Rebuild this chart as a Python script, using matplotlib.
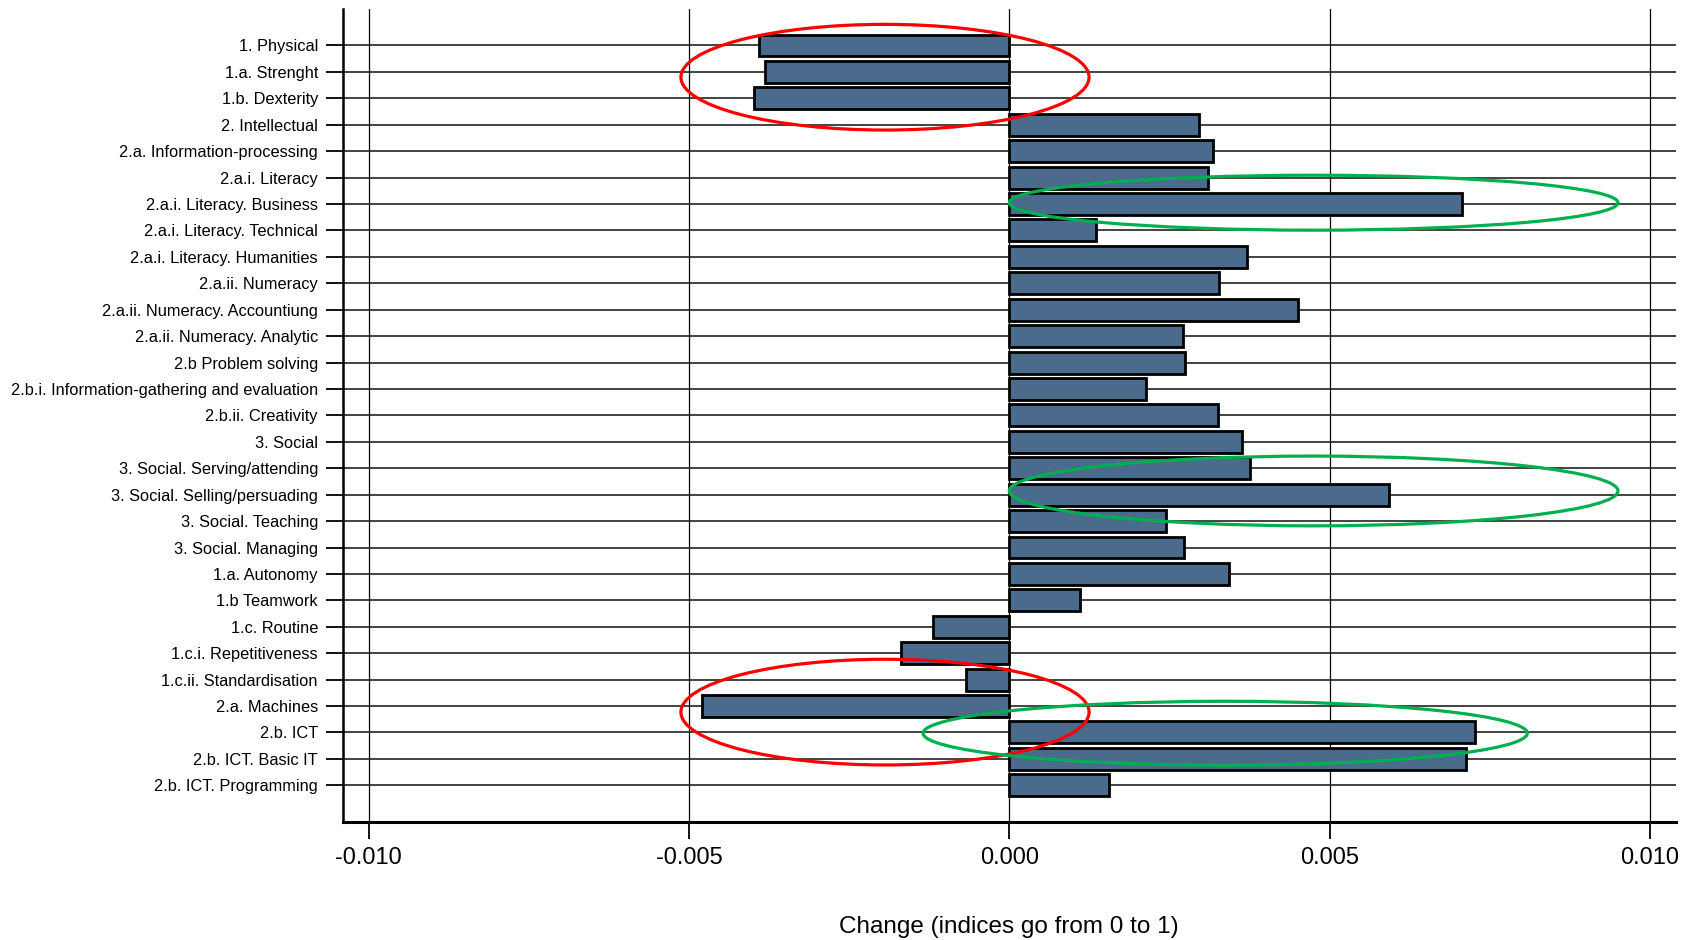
import numpy as np
import matplotlib
matplotlib.use("Agg")
from matplotlib import pyplot as plt
from matplotlib.patches import Ellipse

plt.rcParams['font.family'] = ['Liberation Sans', 'DejaVu Sans']

labels = ["1. Physical", "1.a. Strenght", "1.b. Dexterity", "2. Intellectual",
          "2.a. Information-processing", "2.a.i. Literacy", "2.a.i. Literacy. Business",
          "2.a.i. Literacy. Technical", "2.a.i. Literacy. Humanities", "2.a.ii. Numeracy",
          "2.a.ii. Numeracy. Accountiung", "2.a.ii. Numeracy. Analytic", "2.b Problem solving",
          "2.b.i. Information-gathering and evaluation", "2.b.ii. Creativity", "3. Social",
          "3. Social. Serving/attending", "3. Social. Selling/persuading", "3. Social. Teaching",
          "3. Social. Managing", "1.a. Autonomy", "1.b Teamwork", "1.c. Routine",
          "1.c.i. Repetitiveness", "1.c.ii. Standardisation", "2.a. Machines", "2.b. ICT",
          "2.b. ICT. Basic IT", "2.b. ICT. Programming"]
values = [-0.00391, -0.00382, -0.00399, 0.00296, 0.00318, 0.00310, 0.00707,
          0.00136, 0.00371, 0.00328, 0.00451, 0.00271, 0.00274, 0.00213,
          0.00326, 0.00363, 0.00375, 0.00593, 0.00245, 0.00273, 0.00343,
          0.00111, -0.00119, -0.00169, -0.00068, -0.00479, 0.00727, 0.00713,
          0.00156]
xticks = [-0.010, -0.005, 0.000, 0.005, 0.010]
xlabel = "Change (indices go from 0 to 1)"

bar_color = "#4a6b8c"

fig = plt.figure(figsize=(16.96, 9.40), dpi=100)
ax = fig.add_axes([0.2022, 0.1255, 0.988 - 0.2022, 0.9904 - 0.1255])

ypos = np.arange(len(labels))
ax.barh(ypos, values, height=0.83, color=bar_color, edgecolor="black",
        linewidth=2.0, zorder=3)

ax.set_xlim(-0.0104, 0.0104)
ax.set_ylim(len(labels) - 1 + 1.39, -1.38)
ax.set_yticks(ypos)
ax.set_yticklabels(labels, fontsize=11.8)
ax.set_xticks(xticks)
ax.set_xticklabels(["{:.3f}".format(v) for v in xticks], fontsize=17)
ax.set_xlabel(xlabel, fontsize=17.5, va="center")
ax.xaxis.set_label_coords(0.5, -0.129)

ax.grid(True, axis="y", color="#222222", linewidth=1.2, zorder=1)
ax.grid(True, axis="x", color="black", linewidth=0.9, zorder=1)
ax.set_axisbelow(True)

for s in ["top", "right"]:
    ax.spines[s].set_visible(False)
ax.spines["left"].set_linewidth(1.8)
ax.spines["bottom"].set_linewidth(2.2)
ax.tick_params(axis="y", length=12, width=1.3, pad=6)
ax.tick_params(axis="x", length=12, width=1.3, pad=6)

# highlight ellipses (annotations on top of the chart)
circles = [
    (-0.00194, 1.20, 0.00637, 4.0, "#ff0000"),
    (-0.00194, 25.23, 0.00637, 4.0, "#ff0000"),
    (0.00475, 5.95, 0.0095, 2.08, "#00b050"),
    (0.00475, 16.86, 0.0095, 2.64, "#00b050"),
    (0.00337, 26.03, 0.00943, 2.42, "#00b050"),
]
for cx, cy, w, h, c in circles:
    ax.add_patch(Ellipse((cx, cy), w, h, fill=False, edgecolor=c,
                         linewidth=2.3, zorder=5, clip_on=False))

fig.savefig("out.png", dpi=100)
